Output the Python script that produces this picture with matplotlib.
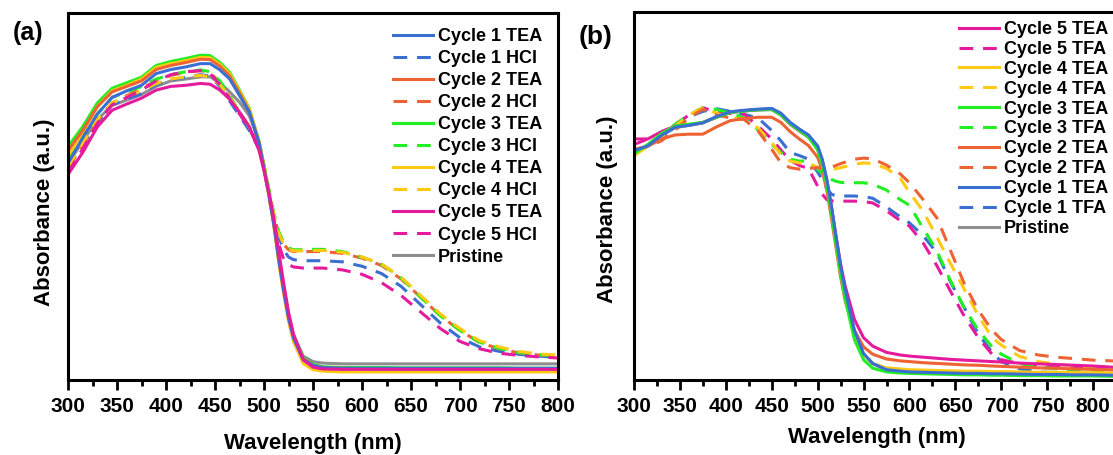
import matplotlib
matplotlib.use("Agg")
import matplotlib.pyplot as plt
from matplotlib.ticker import MultipleLocator

plt.rcParams['font.family'] = ['Liberation Sans', 'DejaVu Sans']
plt.rcParams['font.weight'] = 'bold'

# ---------------- Panel (a) data ----------------
wl_a = [300, 315, 330, 345, 360, 375, 390, 405, 420, 435, 445, 455, 465, 475, 485, 495,
        500, 505, 510, 515, 520, 525, 530, 540, 550, 560, 580, 600, 620, 640, 660, 680,
        700, 720, 740, 760, 780, 800]

a_c1_tea = [.59, .66, .725, .77, .788, .803, .835, .846, .853, .862, .862, .845, .82, .775, .73, .645,
            .575, .505, .425, .33, .245, .17, .115, .055, .04, .034, .032, .032, .032, .032, .032, .032,
            .032, .032, .032, .032, .032, .032]
a_c1_hcl = [.58, .64, .70, .75, .765, .78, .805, .818, .825, .832, .828, .80, .76, .72, .68, .63,
            .58, .51, .44, .39, .355, .335, .328, .325, .325, .325, .322, .31, .29, .255, .205, .155,
            .115, .09, .078, .07, .065, .062]
a_c2_tea = [.625, .68, .745, .785, .80, .815, .846, .857, .865, .874, .873, .855, .828, .782, .732, .645,
            .575, .505, .425, .33, .245, .17, .118, .058, .04, .034, .032, .031, .031, .031, .031, .031,
            .031, .031, .031, .031, .031, .031]
a_c2_hcl = [.575, .64, .705, .755, .775, .795, .815, .83, .838, .843, .838, .81, .77, .73, .69, .635,
            .585, .515, .45, .40, .37, .355, .35, .35, .35, .35, .345, .332, .312, .275, .225, .175,
            .135, .102, .085, .074, .068, .065]
a_c3_tea = [.636, .69, .755, .795, .81, .825, .857, .868, .876, .885, .884, .865, .838, .79, .74, .65,
            .58, .51, .43, .33, .245, .17, .12, .06, .042, .036, .034, .034, .034, .033, .033, .033,
            .033, .033, .033, .032, .032, .032]
a_c3_hcl = [.60, .66, .725, .77, .785, .80, .82, .832, .84, .845, .84, .815, .775, .73, .69, .635,
            .585, .52, .455, .405, .375, .36, .355, .355, .356, .356, .35, .335, .315, .278, .225, .175,
            .135, .103, .086, .075, .069, .066]
a_c4_tea = [.61, .675, .745, .788, .803, .82, .852, .862, .87, .879, .878, .86, .834, .787, .738, .648,
            .578, .50, .42, .32, .235, .16, .105, .045, .028, .024, .022, .022, .022, .022, .022, .022,
            .022, .022, .022, .022, .022, .022]
a_c4_hcl = [.58, .645, .71, .755, .772, .788, .808, .82, .826, .83, .826, .805, .77, .73, .69, .635,
            .585, .515, .45, .40, .37, .357, .352, .352, .353, .353, .348, .335, .316, .28, .23, .18,
            .14, .107, .09, .078, .071, .068]
a_c5_tea = [.56, .62, .69, .735, .752, .768, .79, .80, .803, .808, .806, .79, .765, .73, .69, .625,
            .57, .51, .44, .35, .265, .185, .125, .055, .035, .03, .029, .029, .029, .029, .029, .029,
            .029, .029, .029, .029, .029, .029]
a_c5_hcl = [.565, .63, .70, .75, .77, .79, .815, .832, .84, .843, .835, .805, .765, .725, .685, .63,
            .575, .50, .43, .37, .33, .315, .308, .305, .305, .305, .30, .288, .265, .23, .185, .14,
            .105, .085, .073, .067, .063, .06]
a_pristine = [.59, .65, .71, .748, .763, .778, .80, .815, .82, .826, .826, .81, .785, .757, .72, .65,
              .585, .51, .43, .34, .255, .18, .125, .065, .05, .046, .044, .044, .044, .044, .044, .044,
              .044, .044, .044, .044, .044, .044]

# ---------------- Panel (b) data ----------------
wl_b = [300, 315, 330, 345, 360, 375, 390, 405, 420, 435, 450, 460, 470, 480, 490, 500,
        505, 510, 515, 520, 525, 530, 540, 550, 560, 575, 590, 600, 615, 630, 645, 660,
        675, 690, 700, 720, 740, 760, 780, 800, 820, 850]

b_c1_tea = [.623, .636, .665, .687, .692, .699, .716, .729, .733, .736, .738, .725, .70, .682, .666, .636,
            .60, .545, .473, .39, .31, .245, .135, .072, .045, .028, .024, .022, .021, .02, .019, .018,
            .018, .017, .017, .016, .015, .015, .014, .014, .013, .013]
b_c1_tfa = [.62, .635, .66, .69, .715, .73, .737, .73, .722, .712, .678, .65, .618, .61, .60, .565,
            .545, .52, .505, .50, .50, .50, .50, .498, .494, .47, .443, .427, .392, .345, .265, .195,
            .125, .075, .05, .03, .022, .02, .018, .017, .016, .015]
b_c2_tea = [.625, .635, .655, .666, .668, .668, .688, .705, .71, .714, .714, .70, .675, .655, .637, .605,
            .57, .515, .44, .36, .28, .215, .135, .09, .07, .057, .052, .05, .047, .045, .043, .041,
            .04, .038, .037, .035, .033, .032, .03, .029, .027, .026]
b_c2_tfa = [.627, .635, .65, .68, .712, .736, .72, .712, .708, .677, .627, .59, .577, .573, .575, .577,
            .575, .573, .578, .583, .588, .592, .60, .603, .601, .584, .56, .536, .49, .44, .35, .26,
            .19, .135, .11, .08, .068, .062, .058, .054, .052, .05]
b_c3_tea = [.615, .64, .67, .69, .695, .70, .714, .727, .731, .734, .735, .72, .696, .678, .66, .625,
            .585, .53, .455, .37, .29, .22, .11, .055, .032, .022, .019, .018, .017, .016, .015, .014,
            .014, .013, .013, .012, .012, .011, .011, .011, .01, .01]
b_c3_tfa = [.615, .635, .665, .695, .72, .74, .735, .725, .712, .68, .64, .618, .60, .595, .595, .572,
            .562, .553, .545, .54, .537, .536, .536, .536, .532, .516, .49, .475, .412, .35, .268, .195,
            .135, .09, .07, .045, .035, .03, .027, .025, .024, .023]
b_c4_tea = [.61, .64, .668, .688, .694, .70, .715, .728, .732, .735, .736, .722, .698, .68, .663, .63,
            .59, .535, .46, .375, .295, .23, .125, .07, .045, .033, .03, .028, .027, .026, .025, .024,
            .024, .023, .023, .022, .021, .021, .02, .02, .019, .018]
b_c4_tfa = [.61, .635, .66, .69, .72, .74, .725, .712, .71, .685, .645, .612, .595, .59, .588, .578,
            .575, .573, .573, .574, .577, .58, .586, .59, .588, .575, .548, .51, .458, .388, .315, .245,
            .175, .115, .095, .064, .05, .043, .038, .035, .033, .031]
b_c5_tea = [.655, .655, .675, .69, .693, .699, .714, .727, .731, .734, .735, .72, .695, .677, .66, .63,
            .595, .54, .47, .39, .315, .255, .165, .115, .092, .075, .068, .065, .062, .059, .056, .054,
            .052, .05, .049, .046, .044, .042, .04, .038, .035, .033]
b_c5_tfa = [.64, .655, .672, .695, .72, .74, .728, .724, .722, .69, .655, .625, .597, .583, .575, .527,
            .505, .49, .487, .486, .486, .486, .486, .485, .481, .46, .433, .418, .372, .31, .24, .172,
            .115, .07, .055, .045, .04, .038, .036, .035, .034, .033]
b_pristine = [.62, .636, .664, .686, .692, .699, .715, .728, .732, .735, .737, .724, .70, .681, .665, .634,
              .598, .543, .47, .388, .308, .243, .133, .07, .044, .028, .024, .022, .021, .02, .019, .018,
              .018, .017, .017, .016, .015, .015, .014, .014, .013, .013]

x_ticks = [300, 350, 400, 450, 500, 550, 600, 650, 700, 750, 800]

# ---------------- styles ----------------
C_BLUE = '#3A6FD2'
C_ORANGE = '#EE6333'
C_GREEN = '#22EE22'
C_YELLOW = '#FFC914'
C_MAGENTA = '#E41B9C'
C_GREY = '#8E8E8E'
LW = 2.2
DASH = (0, (4.5, 3.2))

W, H = 1113, 455
fig = plt.figure(figsize=(W / 100, H / 100), dpi=100)

ax_a = fig.add_axes([68 / W, 1 - 380 / H, 490 / W, 367 / H])
ax_b = fig.add_axes([634 / W, 1 - 380 / H, 505 / W, 368 / H])


def style_axes(ax, xmax):
    ax.set_xlim(300, xmax)
    ax.set_ylim(0, 1)
    ax.set_yticks([])
    ax.set_xticks(x_ticks)
    ax.xaxis.set_minor_locator(MultipleLocator(25))
    ax.tick_params(axis='x', which='major', direction='out', length=7, width=2,
                   labelsize=15, pad=5)
    ax.tick_params(axis='x', which='minor', direction='out', length=4, width=2)
    for lab in ax.get_xticklabels():
        lab.set_fontweight('bold')
    for sp in ax.spines.values():
        sp.set_linewidth(2.2)


# ---- panel (a)
ax = ax_a
l_p, = ax.plot(wl_a, a_pristine, color=C_GREY, lw=LW, label='Pristine')
l1h, = ax.plot(wl_a, a_c1_hcl, color=C_BLUE, lw=LW, ls=DASH, label='Cycle 1 HCl')
l2h, = ax.plot(wl_a, a_c2_hcl, color=C_ORANGE, lw=LW, ls=DASH, label='Cycle 2 HCl')
l3h, = ax.plot(wl_a, a_c3_hcl, color=C_GREEN, lw=LW, ls=DASH, label='Cycle 3 HCl')
l4h, = ax.plot(wl_a, a_c4_hcl, color=C_YELLOW, lw=LW, ls=DASH, label='Cycle 4 HCl')
l5h, = ax.plot(wl_a, a_c5_hcl, color=C_MAGENTA, lw=LW, ls=DASH, label='Cycle 5 HCl')
l3t, = ax.plot(wl_a, a_c3_tea, color=C_GREEN, lw=LW, label='Cycle 3 TEA')
l4t, = ax.plot(wl_a, a_c4_tea, color=C_YELLOW, lw=LW, label='Cycle 4 TEA')
l2t, = ax.plot(wl_a, a_c2_tea, color=C_ORANGE, lw=LW, label='Cycle 2 TEA')
l1t, = ax.plot(wl_a, a_c1_tea, color=C_BLUE, lw=LW, label='Cycle 1 TEA')
l5t, = ax.plot(wl_a, a_c5_tea, color=C_MAGENTA, lw=LW, label='Cycle 5 TEA')
style_axes(ax, 800)
ax.set_xlabel('Wavelength (nm)', fontsize=16, fontweight='bold')
ax.xaxis.set_label_coords(0.5, (380 - 443) / 367)
ax.xaxis.label.set_va('center')
ax.set_ylabel('Absorbance (a.u.)', fontsize=16, fontweight='bold')
ax.yaxis.set_label_coords((45 - 68) / 490, 0.458)
ax.yaxis.label.set_va('center')
ha = [l1t, l1h, l2t, l2h, l3t, l3h, l4t, l4h, l5t, l5h, l_p]
ax.legend(ha, [h.get_label() for h in ha],
          loc='upper left', bbox_to_anchor=((393 - 68) / 490, 1 - (28 - 13) / 367),
          frameon=False, borderpad=0, borderaxespad=0, handlelength=2.2,
          handletextpad=0.3, labelspacing=0.28, prop={'size': 13, 'weight': 'bold'})
fig.text(28 / W, 1 - 33 / H, '(a)', fontsize=18, fontweight='bold', ha='center', va='center')

# ---- panel (b)
ax = ax_b
m_p, = ax.plot(wl_b, b_pristine, color=C_GREY, lw=LW, label='Pristine')
m1f, = ax.plot(wl_b, b_c1_tfa, color=C_BLUE, lw=LW, ls=DASH, label='Cycle 1 TFA')
m5f, = ax.plot(wl_b, b_c5_tfa, color=C_MAGENTA, lw=LW, ls=DASH, label='Cycle 5 TFA')
m3f, = ax.plot(wl_b, b_c3_tfa, color=C_GREEN, lw=LW, ls=DASH, label='Cycle 3 TFA')
m4f, = ax.plot(wl_b, b_c4_tfa, color=C_YELLOW, lw=LW, ls=DASH, label='Cycle 4 TFA')
m2f, = ax.plot(wl_b, b_c2_tfa, color=C_ORANGE, lw=LW, ls=DASH, label='Cycle 2 TFA')
m5t, = ax.plot(wl_b, b_c5_tea, color=C_MAGENTA, lw=LW, label='Cycle 5 TEA')
m2t, = ax.plot(wl_b, b_c2_tea, color=C_ORANGE, lw=LW, label='Cycle 2 TEA')
m4t, = ax.plot(wl_b, b_c4_tea, color=C_YELLOW, lw=LW, label='Cycle 4 TEA')
m3t, = ax.plot(wl_b, b_c3_tea, color=C_GREEN, lw=LW, label='Cycle 3 TEA')
m1t, = ax.plot(wl_b, b_c1_tea, color=C_BLUE, lw=LW, label='Cycle 1 TEA')
style_axes(ax, 850)
ax.set_xlabel('Wavelength (nm)', fontsize=16, fontweight='bold')
ax.xaxis.set_label_coords((877 - 634) / 505, (380 - 438) / 368)
ax.xaxis.label.set_va('center')
ax.set_ylabel('Absorbance (a.u.)', fontsize=16, fontweight='bold')
ax.yaxis.set_label_coords((607 - 634) / 505, 0.465)
ax.yaxis.label.set_va('center')
hb = [m5t, m5f, m4t, m4f, m3t, m3f, m2t, m2f, m1t, m1f, m_p]
ax.legend(hb, [h.get_label() for h in hb],
          loc='upper left', bbox_to_anchor=((959 - 634) / 505, 1 - (21 - 12) / 368),
          frameon=False, borderpad=0, borderaxespad=0, handlelength=2.2,
          handletextpad=0.3, labelspacing=0.16, prop={'size': 13, 'weight': 'bold'})
fig.text(596 / W, 1 - 37 / H, '(b)', fontsize=19, fontweight='bold', ha='center', va='center')

fig.savefig('out.png', dpi=100)
